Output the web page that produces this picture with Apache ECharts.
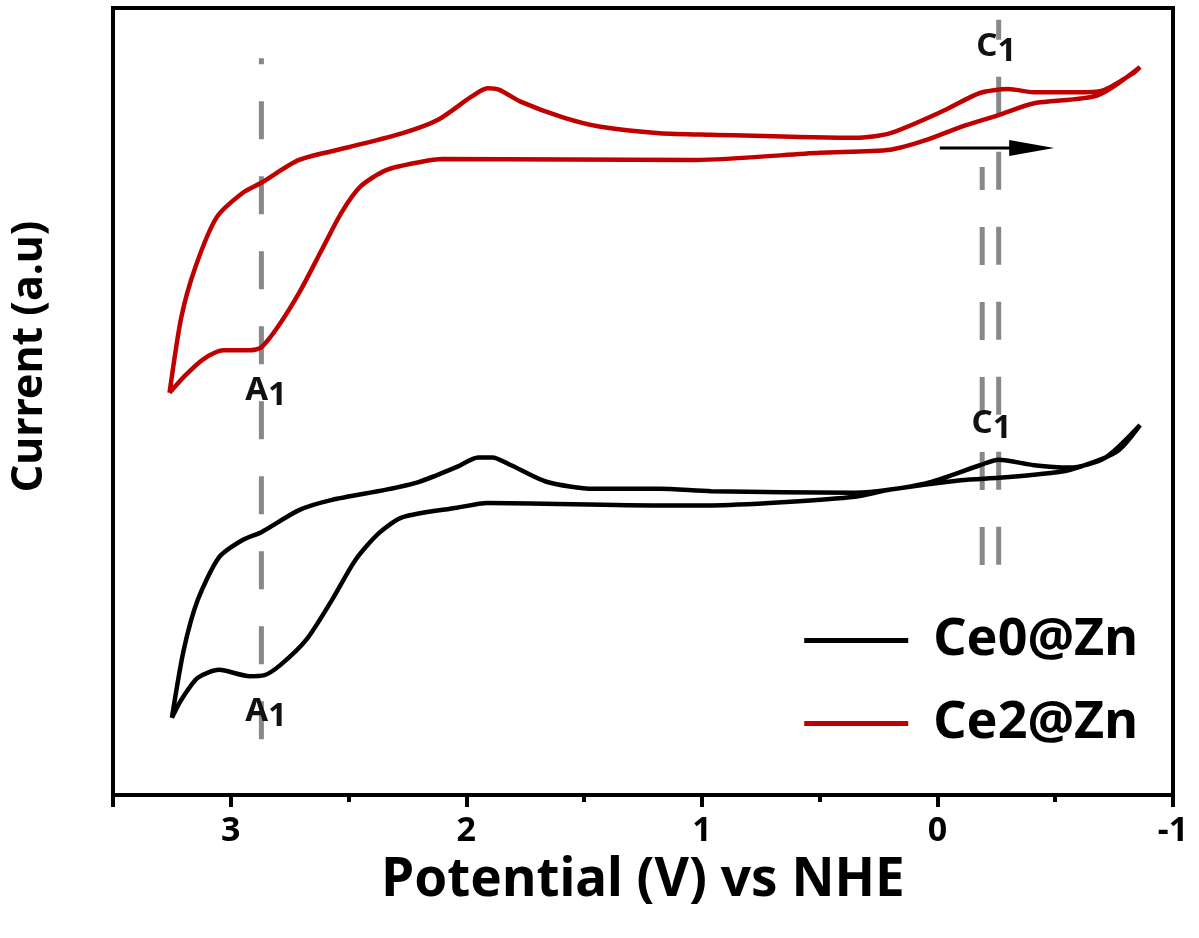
<!DOCTYPE html>
<html>
<head>
<meta charset="utf-8">
<script src="https://cdn.jsdelivr.net/npm/echarts@6/dist/echarts.min.js"></script>
<style>
  html, body { margin: 0; background: #fff; }
  #chart { width: 1199px; height: 938px; }
</style>
</head>
<body>
<div id="chart"></div>
<script>
// CV loops, potential (V vs NHE) and current (a.u.), traced round the loop
const ce0Potential = [3.25, 3.20, 3.14, 3.05, 2.95, 2.87, 2.71, 2.57, 2.34, 2.20, 2.04, 1.95, 1.89, 1.81, 1.66, 1.46, 1.18, 0.96, 0.35, 0.05, -0.18, -0.26, -0.41, -0.56, -0.71, -0.86,
  -0.76, -0.56, -0.41, -0.26, -0.10, 0.20, 0.35, 0.66, 0.96, 1.18, 1.91, 2.04, 2.27, 2.37, 2.47, 2.57, 2.68, 2.79, 2.86, 2.92, 3.05, 3.14, 3.21, 3.25];
const ce0Current = [0.98, 1.84, 2.48, 3.02, 3.24, 3.34, 3.62, 3.75, 3.88, 3.98, 4.17, 4.29, 4.29, 4.19, 3.98, 3.89, 3.89, 3.86, 3.84, 3.96, 4.19, 4.26, 4.19, 4.16, 4.28, 4.70,
  4.36, 4.13, 4.07, 4.03, 4.00, 3.88, 3.79, 3.72, 3.68, 3.68, 3.71, 3.65, 3.53, 3.33, 2.99, 2.48, 1.97, 1.65, 1.52, 1.51, 1.59, 1.49, 1.21, 0.98];

const ce2Potential = [3.26, 3.21, 3.15, 3.06, 2.95, 2.87, 2.71, 2.50, 2.27, 2.12, 1.98, 1.91, 1.86, 1.77, 1.59, 1.43, 1.18, 0.96, 0.35, 0.20, -0.03, -0.18, -0.30, -0.41, -0.63, -0.71, -0.83, -0.86,
  -0.68, -0.41, -0.26, -0.10, 0.05, 0.20, 0.50, 1.03, 2.10, 2.20, 2.34, 2.45, 2.53, 2.62, 2.71, 2.80, 2.87, 2.92, 3.03, 3.12, 3.20, 3.26];
const ce2Current = [5.11, 6.07, 6.71, 7.34, 7.65, 7.78, 8.07, 8.23, 8.41, 8.58, 8.87, 8.98, 8.96, 8.81, 8.61, 8.49, 8.41, 8.39, 8.35, 8.41, 8.70, 8.92, 8.97, 8.93, 8.93, 8.96, 9.17, 9.25,
  8.89, 8.79, 8.64, 8.49, 8.32, 8.20, 8.16, 8.07, 8.08, 8.04, 7.94, 7.73, 7.40, 6.89, 6.38, 5.95, 5.69, 5.65, 5.65, 5.53, 5.31, 5.11];

const xTicks = [-1, 0, 1, 2, 3];

// peak guide lines
const a1Potential = 2.87;
const c1PotentialA = -0.26;
const c1PotentialB = -0.19;

// peak names
const peakNames = ["A", "A", "C", "C"];
const peakPotential = [2.85, 2.85, -0.25, -0.23];
const peakCurrent = [5.08, 1.0, 9.45, 4.66];

const pair = (xs, ys) => xs.map((x, i) => [x, ys[i]]);

const chart = echarts.init(document.getElementById("chart"));

const font = "Noto Sans";
const dash = { color: "#888888", width: 5, type: [38, 37] };

const option = {
  animation: false,
  grid: {
    left: 113, right: 26, top: 8, bottom: 143,
    show: true, borderColor: "#000", borderWidth: 4,
  },
  legend: {
    data: ["Ce0@Zn", "Ce2@Zn"],
    orient: "vertical",
    right: 56,
    top: 606,
    icon: "rect",
    itemWidth: 104,
    itemHeight: 5,
    itemGap: 24,
    textStyle: { fontSize: 52, fontWeight: "bold", fontFamily: font, color: "#000", lineHeight: 59, padding: [0, 0, 0, 20] },
  },
  xAxis: {
    type: "value",
    min: -1, max: 3.5, interval: 1,
    inverse: true,
    axisLine: { show: true, lineStyle: { color: "#000", width: 4 } },
    axisTick: { show: true, length: 12, lineStyle: { color: "#000", width: 4 } },
    minorTick: { show: true, splitNumber: 2, length: 7, lineStyle: { color: "#000", width: 4 } },
    splitLine: { show: false },
    axisLabel: {
      margin: 19, fontSize: 34, fontWeight: "bold", fontFamily: font, color: "#000",
      formatter: (v) => (xTicks.includes(v) ? String(v) : ""),
    },
    name: "Potential (V) vs NHE",
    nameLocation: "middle",
    nameGap: 59,
    nameTextStyle: { fontSize: 53, fontWeight: "bold", fontFamily: font, color: "#000" },
  },
  yAxis: {
    type: "value",
    min: 0, max: 10,
    axisLine: { show: true, onZero: false, lineStyle: { color: "#000", width: 4 } },
    axisTick: { show: false },
    axisLabel: { show: false },
    splitLine: { show: false },
    name: "Current (a.u)",
    nameLocation: "middle",
    nameGap: 62,
    nameTextStyle: { fontSize: 43, fontWeight: "bold", fontFamily: font, color: "#000", padding: [0, 0, 0, 90] },
  },
  series: [
    { name: "A1 guide", type: "line", symbol: "none", silent: true, z: 1,
      lineStyle: { ...dash, dashOffset: 32 }, data: [[a1Potential, 9.36], [a1Potential, 0.64]] },
    { name: "C1 guide a", type: "line", symbol: "none", silent: true, z: 1,
      lineStyle: { ...dash, dashOffset: 18 }, data: [[c1PotentialA, 9.85], [c1PotentialA, 2.86]] },
    { name: "C1 guide b", type: "line", symbol: "none", silent: true, z: 1,
      lineStyle: { ...dash, dashOffset: 15 }, data: [[c1PotentialB, 7.98], [c1PotentialB, 2.86]] },
    { name: "Ce0@Zn", type: "line", symbol: "none", smooth: 0.25, z: 3, color: "#000",
      lineStyle: { color: "#000", width: 4.5 }, data: pair(ce0Potential, ce0Current) },
    { name: "Ce2@Zn", type: "line", symbol: "none", smooth: 0.25, z: 3, color: "#c00000",
      lineStyle: { color: "#c00000", width: 4.5 }, data: pair(ce2Potential, ce2Current) },
    { name: "scan", type: "line", symbol: "none", silent: true, z: 4,
      lineStyle: { color: "#000", width: 3 },
      data: [[-0.01, 8.22], { value: [-0.40, 8.22], symbol: "triangle", symbolSize: [16, 45], symbolRotate: -90, itemStyle: { color: "#000" } }],
      markPoint: {
        silent: true,
        symbol: "rect",
        symbolSize: 1,
        itemStyle: { color: "rgba(0,0,0,0)" },
        label: {
          show: true,
          position: "inside",
          formatter: (p) => `{a|${p.name}}{s|1}`,
          rich: {
            a: { fontSize: 33, fontWeight: "bold", fontFamily: font, color: "#111", padding: [0, 0, 10, 0] },
            s: { fontSize: 33, fontWeight: "bold", fontFamily: font, color: "#111" },
          },
        },
        data: peakNames.map((n, i) => ({ name: n, coord: [peakPotential[i], peakCurrent[i]] })),
      } },
  ],
};

chart.setOption(option);
</script>
</body>
</html>
